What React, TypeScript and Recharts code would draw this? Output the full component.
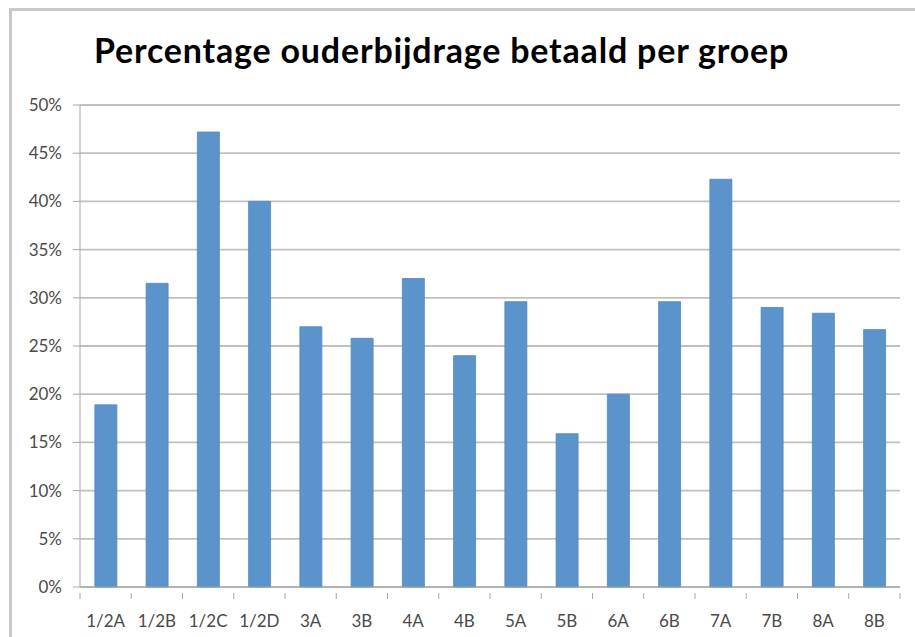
import React from "react";
import { BarChart, Bar, XAxis, YAxis, CartesianGrid } from "recharts";

// groups and paid percentage
const groups = [
  "1/2A", "1/2B", "1/2C", "1/2D", "3A", "3B", "4A", "4B",
  "5A", "5B", "6A", "6B", "7A", "7B", "8A", "8B",
];
const paid = [
  18.9, 31.5, 47.2, 40.0, 27.0, 25.8, 32.0, 24.0,
  29.6, 15.9, 20.0, 29.6, 42.3, 29.0, 28.4, 26.7,
];
const yTicks = [0, 5, 10, 15, 20, 25, 30, 35, 40, 45, 50];

const data = groups.map((g, i) => ({ group: g, paid: paid[i] }));

const FONT = "Lato, 'Open Sans', sans-serif";
const AXIS = "#a6a6a6";
const LABEL = "#4a4a4a";

// label plus the small tick marks that sit between the categories
const CategoryTick = (props: any) => {
  const { x, y, payload, index, visibleTicksCount, width } = props;
  const band = width && visibleTicksCount ? width / visibleTicksCount : 51.25;
  const axisY = y - 22;
  return (
    <g>
      <line x1={x - band / 2} x2={x - band / 2} y1={axisY} y2={axisY + 6} stroke={AXIS} />
      {index === groups.length - 1 && (
        <line x1={x + band / 2} x2={x + band / 2} y1={axisY} y2={axisY + 6} stroke={AXIS} />
      )}
      <text x={x} y={y} dy="0.71em" textAnchor="middle" fill={LABEL} fontSize={17} fontFamily={FONT}>
        {payload.value}
      </text>
    </g>
  );
};

const App = () => {
  return (
    <div style={{ position: "absolute", left: 0, top: 0, width: 915, height: 637, overflow: "hidden", background: "#fff" }}>
      <div
        style={{
          position: "absolute",
          left: 9,
          top: 8,
          width: 940,
          height: 660,
          borderTop: "3px solid #c9c9c9",
          borderLeft: "3px solid #c9c9c9",
        }}
      />
      <div
        style={{
          position: "absolute",
          left: 94,
          top: 29,
          fontFamily: FONT,
          fontWeight: 700,
          fontSize: 34,
          letterSpacing: 0.8,
          lineHeight: "42px",
          color: "#000",
          whiteSpace: "nowrap",
        }}
      >
        Percentage ouderbijdrage betaald per groep
      </div>
      <div style={{ position: "absolute", left: 0, top: 0 }}>
        <BarChart
          width={915}
          height={637}
          data={data}
          margin={{ top: 105, right: 15, left: 20, bottom: 0 }}
          barCategoryGap="29%"
        >
          <CartesianGrid vertical={false} stroke="#c0c0c0" strokeWidth={1.8} />
          <XAxis
            dataKey="group"
            height={50}
            axisLine={{ stroke: AXIS }}
            tickLine={false}
            tickMargin={22}
            interval={0}
            tick={<CategoryTick />}
          />
          <YAxis
            width={60}
            domain={[0, 50]}
            ticks={yTicks}
            tickFormatter={(v: number) => `${v}%`}
            axisLine={{ stroke: AXIS }}
            tickLine={{ stroke: AXIS }}
            tickSize={7}
            tickMargin={11}
            tick={{ fill: LABEL, fontSize: 17, fontFamily: FONT }}
          />
          <Bar dataKey="paid" fill="#5b93cb" stroke="#5086c0" strokeWidth={0.8} isAnimationActive={false} />
        </BarChart>
      </div>
    </div>
  );
};

export default App;
